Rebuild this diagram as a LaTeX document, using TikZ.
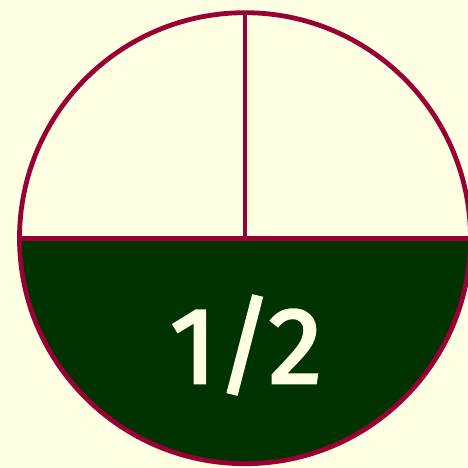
\documentclass[tikz,border=0pt]{standalone}
\usepackage{fontspec}
\setmainfont{Fira Sans}
\newfontfamily\labelfont[FakeBold=2.5]{Fira Sans}
\definecolor{bgc}{HTML}{FFFFE3}
\definecolor{rim}{HTML}{990033}
\definecolor{fillg}{HTML}{003300}
\tikzset{rimline/.style={draw=rim,line width=4.8pt}}
\begin{document}
\begin{tikzpicture}[x=1pt,y=1pt]
\fill[bgc] (0,0) rectangle (467,468);
\useasboundingbox (0,0) rectangle (467,468);
\coordinate (c) at (245,229.8);
\coordinate (l) at (19.5,229.8);
\coordinate (r) at (470.5,229.8);
\coordinate (t) at (245,455.3);
\fill[fillg] (l) arc[start angle=180,end angle=360,radius=225.5] -- cycle;
\draw[rimline] (c) circle[radius=225.5];
\draw[rimline] (l) -- (r);
\draw[rimline] (c) -- (t);
\node[text=bgc,font=\labelfont\fontsize{108}{110}\selectfont] (lbl) at (246,123) {1/2};
\end{tikzpicture}
\end{document}
